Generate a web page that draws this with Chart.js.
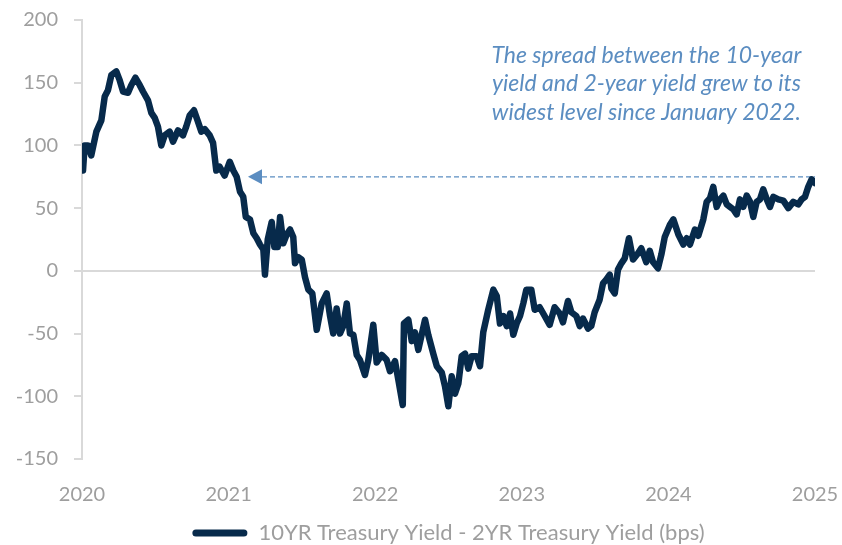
<!DOCTYPE html>
<html>
<head>
<meta charset="utf-8">
<script src="https://cdn.jsdelivr.net/npm/chart.js@4.4.1/dist/chart.umd.min.js"></script>
<style>
  html, body { margin: 0; padding: 0; background: #fff; }
</style>
</head>
<body>
<canvas id="spreadChart" width="842" height="545"></canvas>
<script>
// readings: decimal year + spread in bps
var years = [
  2020.000, 2020.007, 2020.018, 2020.041, 2020.063, 2020.098, 2020.132, 2020.155, 2020.177, 2020.200,
  2020.234, 2020.257, 2020.280, 2020.314, 2020.336, 2020.364, 2020.394, 2020.416, 2020.450, 2020.473,
  2020.496, 2020.518, 2020.541, 2020.564, 2020.598, 2020.621, 2020.655, 2020.689, 2020.711, 2020.735,
  2020.764, 2020.791, 2020.814, 2020.837, 2020.871, 2020.894, 2020.916, 2020.939, 2020.973, 2021.008,
  2021.032, 2021.055, 2021.078, 2021.100, 2021.117, 2021.146, 2021.169, 2021.192, 2021.214, 2021.237,
  2021.248, 2021.267, 2021.294, 2021.312, 2021.335, 2021.351, 2021.373, 2021.396, 2021.419, 2021.441,
  2021.453, 2021.475, 2021.499, 2021.521, 2021.544, 2021.571, 2021.601, 2021.635, 2021.669, 2021.692,
  2021.714, 2021.737, 2021.760, 2021.782, 2021.806, 2021.828, 2021.851, 2021.874, 2021.896, 2021.930,
  2021.953, 2021.987, 2022.010, 2022.044, 2022.078, 2022.101, 2022.135, 2022.158, 2022.188, 2022.196,
  2022.226, 2022.249, 2022.271, 2022.294, 2022.317, 2022.340, 2022.362, 2022.396, 2022.420, 2022.454,
  2022.476, 2022.499, 2022.522, 2022.544, 2022.567, 2022.590, 2022.613, 2022.635, 2022.658, 2022.692,
  2022.715, 2022.737, 2022.771, 2022.806, 2022.829, 2022.851, 2022.874, 2022.897, 2022.920, 2022.942,
  2022.965, 2022.988, 2023.010, 2023.031, 2023.065, 2023.088, 2023.122, 2023.156, 2023.190, 2023.224,
  2023.259, 2023.281, 2023.315, 2023.338, 2023.372, 2023.395, 2023.417, 2023.452, 2023.474, 2023.497,
  2023.531, 2023.554, 2023.576, 2023.600, 2023.611, 2023.634, 2023.656, 2023.679, 2023.702, 2023.731,
  2023.759, 2023.793, 2023.815, 2023.849, 2023.873, 2023.895, 2023.929, 2023.952, 2023.975, 2024.011,
  2024.034, 2024.068, 2024.102, 2024.125, 2024.147, 2024.181, 2024.204, 2024.238, 2024.261, 2024.284,
  2024.306, 2024.329, 2024.352, 2024.375, 2024.398, 2024.420, 2024.443, 2024.466, 2024.488, 2024.511,
  2024.534, 2024.557, 2024.579, 2024.602, 2024.625, 2024.647, 2024.671, 2024.693, 2024.716, 2024.750,
  2024.784, 2024.818, 2024.852, 2024.886, 2024.909, 2024.932, 2024.954, 2024.977, 2025.000
];
var spread = [
   80,  80, 100, 100,  92, 111, 120, 139, 144, 156,
  159, 152, 143, 142, 148, 154, 148, 143, 136, 126,
  122, 115, 100, 108, 111, 103, 112, 108, 115, 124,
  128, 119, 111, 113, 108, 102,  80,  83,  76,  87,
   80,  75,  63,  59,  43,  41,  30,  26,  21,  17,
   -3,  25,  39,  19,  19,  43,  22,  29,  33,  27,
    6,  11,   9,  -5, -15, -18, -47, -26, -18, -36,
  -50, -30, -50, -44, -26, -50, -51, -67, -71, -83,
  -71, -43, -73, -67, -71, -80, -72, -87, -107, -42,
  -39, -56, -49, -63, -51, -39, -51, -66, -76, -81,
  -92, -108, -84, -98, -90, -68, -66, -78, -68, -68,
  -76, -49, -31, -15, -20, -42, -36, -44, -34, -51,
  -42, -36, -26, -15, -15, -31, -29, -36, -43, -29,
  -34, -41, -24, -33, -36, -44, -38, -46, -44, -33,
  -23, -10,  -7,  -3, -14, -18,   1,   6,  10,  26,
    9,  14,  18,   7,  16,   7,   2,  13,  27,  37,
   41,  29,  21,  26,  21,  33,  28,  41,  55,  58,
   67,  51,  57,  60,  53,  51,  49,  45,  57,  51,
   60,  55,  43,  55,  57,  65,  57,  51,  59,  57,
   56,  50,  55,  53,  57,  59,  67,  73,  70
];

var seriesName = "10YR Treasury Yield - 2YR Treasury Yield (bps)";
var noteLines = [
  "The spread between the 10-year",
  "yield and 2-year yield grew to its",
  "widest level since January 2022."
];
var noteLevel = 75;        // dashed marker level (bps)
var arrowTip = 2021.132;   // where the arrow points
var arrowBase = 2021.228;
var arrowEnd = 2025;
var noteX = 2023.85;       // centre of the text block
var noteTop = 166;         // baseline of first text line (bps)

var navy = '#072a4b';
var noteBlue = '#5b8dc1';
var axisGrey = '#d9d9d9';
var labelGrey = '#9e9e9e';

Chart.defaults.font.family = "Lato, 'Open Sans', sans-serif";

var points = years.map(function(y, i) { return {x: y, y: spread[i]}; });

// dashed line, arrow and the note text
var notePlugin = {
  id: 'note',
  beforeDatasetsDraw: function(chart) {
    var ctx = chart.ctx;
    var xs = chart.scales.x;
    var ys = chart.scales.y;
    var yPx = ys.getPixelForValue(noteLevel);
    var tip = xs.getPixelForValue(arrowTip);
    var base = xs.getPixelForValue(arrowBase);
    var end = xs.getPixelForValue(arrowEnd);

    ctx.save();
    ctx.strokeStyle = noteBlue;
    ctx.lineWidth = 1.2;
    ctx.setLineDash([5, 3]);
    ctx.beginPath();
    ctx.moveTo(base, yPx);
    ctx.lineTo(end, yPx);
    ctx.stroke();
    ctx.setLineDash([]);

    ctx.fillStyle = noteBlue;
    ctx.beginPath();
    ctx.moveTo(tip, yPx);
    ctx.lineTo(base, yPx - 7.5);
    ctx.lineTo(base, yPx + 7.5);
    ctx.closePath();
    ctx.fill();

    ctx.font = "italic 23px Lato, 'Open Sans', sans-serif";
    ctx.textAlign = 'center';
    ctx.textBaseline = 'alphabetic';
    var cx = xs.getPixelForValue(noteX);
    var top = ys.getPixelForValue(noteTop);
    noteLines.forEach(function(line, i) {
      ctx.fillText(line, cx, top + i * 28.5);
    });
    ctx.restore();
  }
};

var ctx = document.getElementById('spreadChart').getContext('2d');
new Chart(ctx, {
  type: 'line',
  data: {
    datasets: [{
      label: seriesName,
      data: points,
      borderColor: navy,
      backgroundColor: navy,
      borderWidth: 6.5,
      borderCapStyle: 'round',
      borderJoinStyle: 'round',
      pointRadius: 0,
      tension: 0
    }]
  },
  options: {
    responsive: false,
    animation: false,
    layout: { padding: { top: 20, right: 27, left: 0, bottom: -9 } },
    plugins: {
      tooltip: { enabled: false },
      legend: {
        position: 'bottom',
        fullSize: false,
        labels: {
          color: labelGrey,
          font: { size: 22 },
          boxWidth: 55,
          boxHeight: 7,
          padding: 6,
          generateLabels: function(chart) {
            return Chart.defaults.plugins.legend.labels.generateLabels(chart).map(function(l) {
              l.lineWidth = 0;
              l.fillStyle = navy;
              l.borderRadius = 3.5;
              return l;
            });
          }
        }
      }
    },
    scales: {
      x: {
        type: 'linear',
        min: 2020,
        max: 2025,
        grid: { display: false, drawTicks: false },
        border: { display: false },
        ticks: {
          stepSize: 1,
          autoSkip: false,
          maxRotation: 0,
          padding: 24,
          color: labelGrey,
          font: { size: 20 },
          callback: function(v) { return String(v); }
        },
        afterFit: function(scale) {
          scale.height = 57;
          scale.paddingLeft = 0;
          scale.paddingRight = 0;
        }
      },
      y: {
        min: -150,
        max: 200,
        grid: {
          color: function(c) { return c.tick && c.tick.value === 0 ? axisGrey : 'rgba(0,0,0,0)'; },
          tickColor: axisGrey,
          lineWidth: 2,
          tickWidth: 2,
          tickLength: 8
        },
        border: { color: axisGrey, width: 2 },
        ticks: {
          stepSize: 50,
          padding: 16,
          color: labelGrey,
          font: { size: 20 }
        },
        afterFit: function(scale) {
          scale.width = 82;
          scale.paddingTop = 0;
          scale.paddingBottom = 0;
        }
      }
    }
  },
  plugins: [notePlugin]
});
</script>
</body>
</html>
